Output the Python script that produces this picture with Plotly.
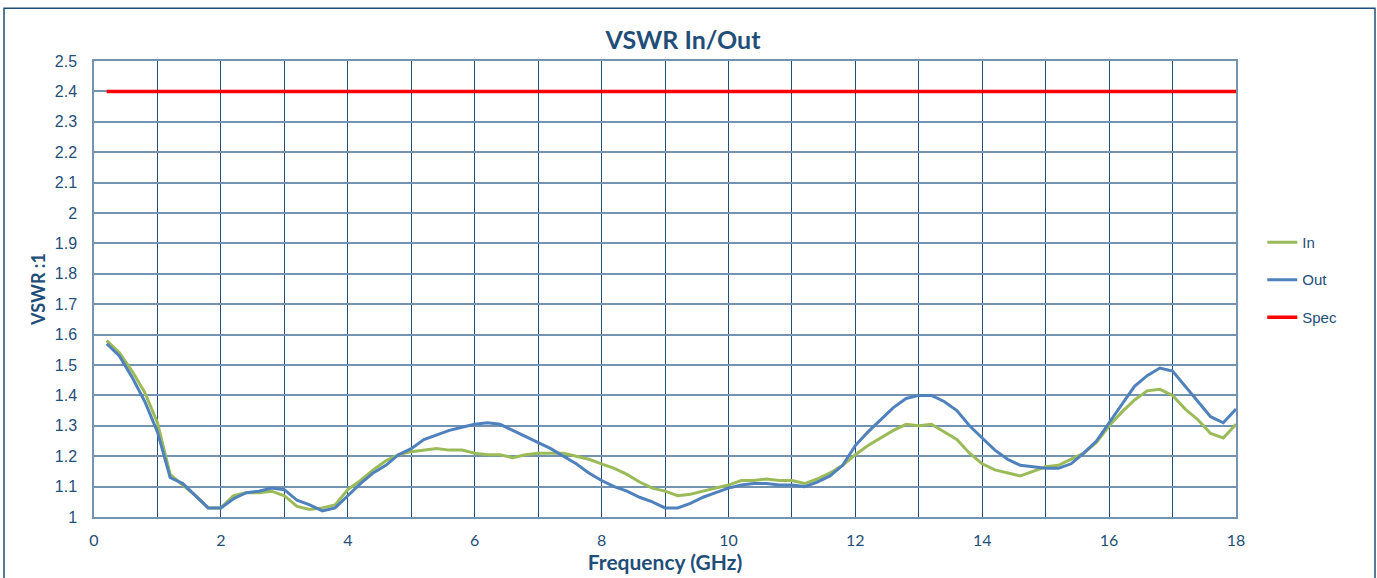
import plotly.graph_objects as go

freq = [round(0.2 * i, 1) for i in range(1, 91)]

vswr_in = [
    1.58, 1.54, 1.48, 1.41, 1.31, 1.14, 1.105, 1.07, 1.03, 1.03,
    1.07, 1.08, 1.08, 1.085, 1.07, 1.035, 1.025, 1.03, 1.04, 1.09,
    1.12, 1.155, 1.185, 1.205, 1.215, 1.22, 1.225, 1.22, 1.22, 1.21,
    1.205, 1.205, 1.195, 1.205, 1.21, 1.21, 1.21, 1.20, 1.19, 1.175,
    1.16, 1.14, 1.115, 1.095, 1.085, 1.07, 1.075, 1.085, 1.095, 1.105,
    1.12, 1.12, 1.125, 1.12, 1.12, 1.11, 1.125, 1.145, 1.17, 1.205,
    1.235, 1.26, 1.285, 1.305, 1.30, 1.305, 1.28, 1.255, 1.21, 1.175,
    1.155, 1.145, 1.135, 1.15, 1.165, 1.17, 1.19, 1.21, 1.245, 1.30,
    1.345, 1.385, 1.415, 1.42, 1.40, 1.355, 1.32, 1.275, 1.26, 1.305,
]

vswr_out = [
    1.57, 1.53, 1.46, 1.38, 1.28, 1.13, 1.11, 1.07, 1.03, 1.03,
    1.06, 1.08, 1.085, 1.095, 1.09, 1.055, 1.04, 1.02, 1.03, 1.07,
    1.11, 1.145, 1.17, 1.205, 1.225, 1.255, 1.27, 1.285, 1.295, 1.305,
    1.31, 1.305, 1.285, 1.265, 1.245, 1.225, 1.20, 1.175, 1.145, 1.12,
    1.10, 1.085, 1.065, 1.05, 1.03, 1.03, 1.045, 1.065, 1.08, 1.095,
    1.105, 1.11, 1.11, 1.105, 1.105, 1.10, 1.115, 1.135, 1.17, 1.235,
    1.28, 1.32, 1.36, 1.39, 1.40, 1.40, 1.38, 1.35, 1.30, 1.26,
    1.22, 1.19, 1.17, 1.165, 1.16, 1.16, 1.175, 1.21, 1.25, 1.31,
    1.37, 1.43, 1.465, 1.49, 1.48, 1.43, 1.38, 1.33, 1.31, 1.355,
]

spec_freq = [0.2, 18.0]
spec_val = [2.4, 2.4]

TXT = "#1f4e79"
GRID_H = "#7393b0"
GRID_V = "#1f4e79"

fig = go.Figure()
fig.add_trace(go.Scatter(x=freq, y=vswr_in, mode="lines", name="In",
                         legendgroup="a", line=dict(color="#9bbb59", width=3)))
fig.add_trace(go.Scatter(x=freq, y=vswr_out, mode="lines", name="Out",
                         legendgroup="b", line=dict(color="#4f81bd", width=3)))
fig.add_trace(go.Scatter(x=spec_freq, y=spec_val, mode="lines", name="Spec",
                         legendgroup="c", line=dict(color="#ff0000", width=3.5)))

fig.update_layout(
    width=1377, height=578,
    margin=dict(l=94, r=141, t=61, b=58),
    paper_bgcolor="white", plot_bgcolor="white",
    title=dict(text="<b>VSWR In/Out</b>", x=0.496, xanchor="center", y=0.93, yanchor="middle",
               font=dict(family="Lato", size=25, color=TXT)),
    font=dict(family="Liberation Sans", size=13, color=TXT),
    showlegend=True,
    legend=dict(x=1.023, xanchor="left", y=0.52, yanchor="middle",
                tracegroupgap=15, font=dict(family="Liberation Sans", size=15, color=TXT),
                bgcolor="rgba(0,0,0,0)"),
    xaxis=dict(range=[0, 18], dtick=2, tick0=0, showgrid=True, gridcolor=GRID_V, gridwidth=1,
               minor=dict(dtick=1, showgrid=True, gridcolor=GRID_V, gridwidth=1),
               showline=True, linecolor=GRID_H, linewidth=1.5, mirror=True,
               ticks="outside", ticklen=8, tickcolor="rgba(0,0,0,0)",
               zeroline=False,
               tickfont=dict(family="Lato", size=16, color=TXT),
               title=dict(text="<b>Frequency (GHz)</b>", standoff=2,
                          font=dict(family="Lato", size=21, color=TXT))),
    yaxis=dict(range=[1, 2.5], dtick=0.1, tick0=1, showgrid=True, gridcolor=GRID_H, gridwidth=1.5,
               showline=True, linecolor=GRID_H, linewidth=1.5, mirror=True,
               ticks="outside", ticklen=12, tickcolor="rgba(0,0,0,0)",
               zeroline=False,
               tickfont=dict(family="Liberation Sans", size=16, color=TXT),
               title=dict(text="<b>VSWR :1</b>", standoff=4,
                          font=dict(family="Lato", size=18, color=TXT))),
)

fig.add_shape(type="rect", xref="paper", yref="paper",
              x0=(4 - 94) / 1142, x1=(1375 - 94) / 1142,
              y0=(520 - 585) / 459, y1=(520 - 8) / 459,
              line=dict(color=TXT, width=1.5), fillcolor="rgba(0,0,0,0)", layer="below")

fig.write_html("out.html", config={"displayModeBar": False},
               post_script="document.body.style.margin='0';")
